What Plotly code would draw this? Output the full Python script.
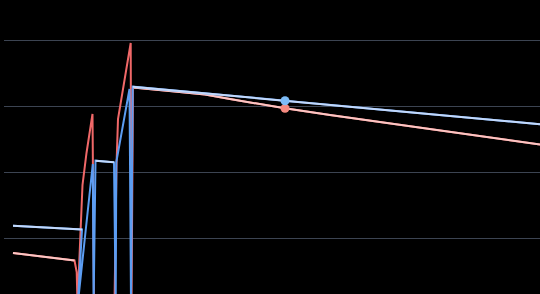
import plotly.graph_objects as go

# ---- data ----
red_x = [9, 70.5, 72.7, 73.5, 78.5, 82.5, 88.5, 90, 110.5, 112.5, 114, 126.7, 127.5,
         129, 166, 201, 226, 281, 326, 436, 536]
red_y = [77.3, 65.9, 48.5, 0, 180.3, 228.8, 287.9, 0, 0, 210, 280, 395.5, 0,
         328, 322.7, 317.4, 310.6, 296.5, 286.4, 262.6, 241.7]

blue_x = [9, 78, 73.8, 88.8, 89.6, 91.5, 110, 111.7, 112.3, 125.5, 127, 128.7, 281, 436, 536]
blue_y = [118.6, 112.9, 0, 212.1, 0, 217.1, 214.7, 0, 215.2, 325.8, 0, 329.2, 308, 286.4, 272.3]

marker_x = 281

RED, RED_PALE = "#f06868", "#fbc6c4"
BLUE, BLUE_PALE = "#5c9df2", "#c2d8fb"
RED_MK, BLUE_MK = "#f58a80", "#7dbcf7"

Y_RANGE = [15.15, 460.6]
X_RANGE = [0, 536]
W, H = 540, 294
PX_PER_Y = H / (Y_RANGE[1] - Y_RANGE[0])
PX_PER_X = (W - 4) / (X_RANGE[1] - X_RANGE[0])

fig = go.Figure()


def add_series(xs, ys, strong, pale):
    fig.add_trace(go.Scatter(x=xs, y=ys, mode="lines",
                             line=dict(color=strong, width=2), hoverinfo="skip"))
    # pale overlay on gentle runs
    run_x, run_y = [], []
    for i in range(len(xs) - 1):
        dx = abs(xs[i + 1] - xs[i]) * PX_PER_X
        dy = abs(ys[i + 1] - ys[i]) * PX_PER_Y
        flat = dx > 0 and dy / dx < 1.5
        if flat:
            if not run_x:
                run_x, run_y = [xs[i]], [ys[i]]
            run_x.append(xs[i + 1]); run_y.append(ys[i + 1])
        else:
            if run_x:
                fig.add_trace(go.Scatter(x=run_x, y=run_y, mode="lines",
                                         line=dict(color=pale, width=2), hoverinfo="skip"))
            run_x, run_y = [], []
    if run_x:
        fig.add_trace(go.Scatter(x=run_x, y=run_y, mode="lines",
                                 line=dict(color=pale, width=2), hoverinfo="skip"))


add_series(red_x, red_y, RED, RED_PALE)
add_series(blue_x, blue_y, BLUE, BLUE_PALE)

ri = max(i for i, v in enumerate(red_x) if v == marker_x)
bi = max(i for i, v in enumerate(blue_x) if v == marker_x)
fig.add_trace(go.Scatter(x=[red_x[ri]], y=[red_y[ri]], mode="markers",
                         marker=dict(color=RED_MK, size=9), hoverinfo="skip"))
fig.add_trace(go.Scatter(x=[blue_x[bi]], y=[blue_y[bi]], mode="markers",
                         marker=dict(color=BLUE_MK, size=9), hoverinfo="skip"))

fig.update_layout(
    width=W, height=H,
    margin=dict(l=4, r=0, t=0, b=0),
    paper_bgcolor="#000000", plot_bgcolor="#000000",
    showlegend=False,
    xaxis=dict(range=X_RANGE, showgrid=False, zeroline=False, showticklabels=False,
               ticks="", showline=False),
    yaxis=dict(range=Y_RANGE, showgrid=True, gridcolor="#3c4452", gridwidth=1,
               tick0=0, dtick=100, zeroline=False, showticklabels=False, ticks="",
               showline=False),
)

fig.write_html("out.html")
